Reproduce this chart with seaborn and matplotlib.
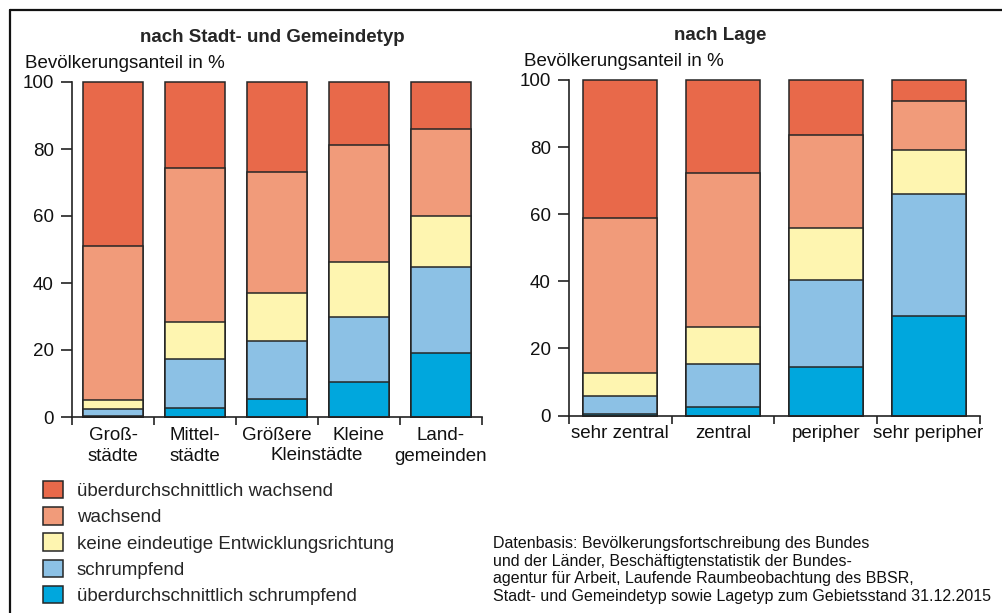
import numpy as np
import pandas as pd
import seaborn as sns
import matplotlib.pyplot as plt
import matplotlib.patches as mpatches
from matplotlib.lines import Line2D

sns.set_theme(style="white")
plt.rcParams['font.family'] = ['Liberation Sans', 'DejaVu Sans']

# Kategorien
stadttypen = ["Groß-\nstädte", "Mittel-\nstädte", "Größere", "Kleine", "Land-\ngemeinden"]
lagetypen = ["sehr zentral", "zentral", "peripher", "sehr peripher"]

klassen = [
    "überdurchschnittlich wachsend",
    "wachsend",
    "keine eindeutige Entwicklungsrichtung",
    "schrumpfend",
    "überdurchschnittlich schrumpfend",
]
farben = ["#E8694A", "#F19B7A", "#FEF5B0", "#8CC1E5", "#00A7DD"]

# Anteile in % (von unten: überdurchschn. schrumpfend ... überdurchschn. wachsend)
stadt_ued_schrumpf = [0.2, 2.7, 5.4, 10.3, 19.2]
stadt_schrumpf = [2.3, 14.7, 17.3, 19.6, 25.5]
stadt_keine = [2.7, 11.1, 14.2, 16.3, 15.3]
stadt_wachs = [45.8, 45.7, 36.2, 34.9, 25.9]
stadt_ued_wachs = [49.0, 25.8, 26.9, 18.9, 14.1]

lage_ued_schrumpf = [0.3, 2.4, 14.5, 29.8]
lage_schrumpf = [5.5, 13.0, 25.8, 36.2]
lage_keine = [7.0, 10.9, 15.6, 13.0]
lage_wachs = [46.0, 45.9, 27.6, 14.8]
lage_ued_wachs = [41.2, 27.8, 16.5, 6.2]

quelle = ("Datenbasis: Bevölkerungsfortschreibung des Bundes\n"
          "und der Länder, Beschäftigtenstatistik der Bundes-\n"
          "agentur für Arbeit, Laufende Raumbeobachtung des BBSR,\n"
          "Stadt- und Gemeindetyp sowie Lagetyp zum Gebietsstand 31.12.2015")

FS = 13.5
W, H = 1003, 613


def gestapelt(ax, kategorien, schichten):
    # schichten von unten nach oben, kumuliert und von oben nach unten gezeichnet
    kum = np.cumsum(np.array(schichten), axis=0)
    df = pd.DataFrame(kum.T, columns=klassen[::-1])
    df["kat"] = kategorien
    for i in range(len(schichten) - 1, -1, -1):
        sns.barplot(data=df, x="kat", y=klassen[::-1][i], color=farben[::-1][i],
                    width=0.72, edgecolor="#262626", linewidth=1.1,
                    saturation=1, ax=ax, order=kategorien)
    for p in ax.patches:
        p.set_clip_on(False)
    n = len(kategorien)
    ax.set_xlim(-0.5, n - 0.5)
    ax.set_ylim(0, 100)
    ax.set_yticks([0, 20, 40, 60, 80, 100])
    ax.set_xticks(np.arange(n))
    ax.set_xticklabels(kategorien, fontsize=FS, linespacing=1.3)
    ax.set_xticks(np.arange(n + 1) - 0.5, minor=True)
    ax.tick_params(axis="x", which="major", length=0, pad=7)
    ax.tick_params(axis="x", which="minor", length=6, width=1.2, color="#222222", direction="out", bottom=True)
    ax.tick_params(axis="y", length=8, width=1.2, color="#222222", direction="out", left=True, labelsize=FS, pad=5)
    ax.set_xlabel("")
    ax.set_ylabel("")
    for s in ["top", "right"]:
        ax.spines[s].set_visible(False)
    for s in ["left", "bottom"]:
        ax.spines[s].set_color("#222222")
        ax.spines[s].set_linewidth(1.2)
    for lab in ax.get_xticklabels() + ax.get_yticklabels():
        lab.set_color("#111111")


fig = plt.figure(figsize=(W / 100, H / 100), dpi=100)
ax1 = fig.add_axes([72 / W, 1 - 417 / H, 410 / W, 335 / H])
ax2 = fig.add_axes([569 / W, 1 - 415.5 / H, 411 / W, 335.5 / H])

gestapelt(ax1, stadttypen, [stadt_ued_schrumpf, stadt_schrumpf, stadt_keine, stadt_wachs, stadt_ued_wachs])
gestapelt(ax2, lagetypen, [lage_ued_schrumpf, lage_schrumpf, lage_keine, lage_wachs, lage_ued_wachs])

# gemeinsame zweite Zeile für Größere/Kleine Kleinstädte
fig.text(317 / W, 1 - 456 / H, "Kleinstädte", fontsize=FS, ha="center", va="center", color="#111111")

fig.text(272 / W, 1 - 37 / H, "nach Stadt- und Gemeindetyp", fontsize=FS, fontweight="bold", ha="center", va="center")
fig.text(720 / W, 1 - 36 / H, "nach Lage", fontsize=FS, fontweight="bold", ha="center", va="center")
fig.text(25 / W, 1 - 64 / H, "Bevölkerungsanteil in %", fontsize=FS, ha="left", va="center", color="#111111")
fig.text(524 / W, 1 - 61 / H, "Bevölkerungsanteil in %", fontsize=FS, ha="left", va="center", color="#111111")

handles = [mpatches.Patch(facecolor=c, edgecolor="#262626", linewidth=1.1) for c in farben]
fig.legend(handles, klassen, loc="upper left", bbox_to_anchor=(43 / W, 1 - 481 / H),
           frameon=False, fontsize=FS, handlelength=1.05, handleheight=1.05,
           handletextpad=0.75, labelspacing=0.38, borderaxespad=0, borderpad=0)

fig.text(493 / W, 1 - 570 / H, quelle, fontsize=11.5, ha="left", va="center", linespacing=1.2, color="#111111")

# Rahmen oben und links
fig.add_artist(Line2D([10 / W, 1.0], [1 - 10 / H, 1 - 10 / H], transform=fig.transFigure, color="#111111", linewidth=1.6))
fig.add_artist(Line2D([10 / W, 10 / W], [1 - 10 / H, 0.0], transform=fig.transFigure, color="#111111", linewidth=1.6))

fig.savefig("out.png", dpi=100)
